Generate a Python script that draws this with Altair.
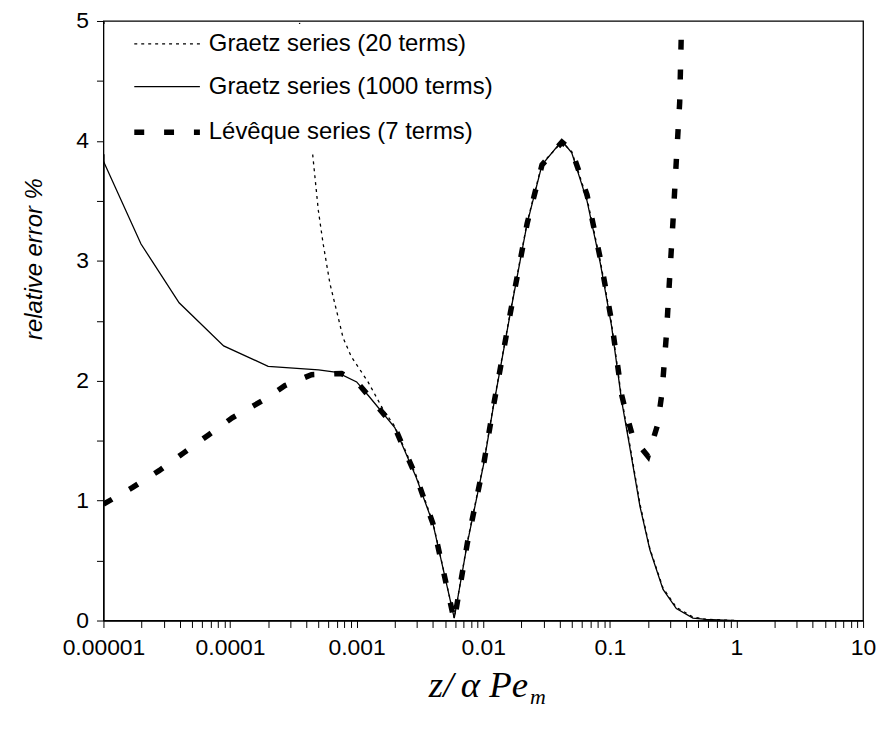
import altair as alt
import pandas as pd

# ---- data (x = z/(alpha Pe_m), y = relative error %) ----
# Graetz series, 1000 terms (solid)
g1000_x = [1e-5, 1.98e-5, 3.96e-5, 8.9e-5, 2.0e-4, 5.0e-4, 7.0e-4, 1.0e-3, 1.25e-3, 2.0e-3,
           2.95e-3, 4.0e-3, 5.9e-3, 7.5e-3, 1.01e-2, 1.2e-2, 1.64e-2, 2.22e-2, 2.91e-2,
           4.18e-2, 5.0e-2, 6.6e-2, 8.4e-2, 0.103, 0.124, 0.144, 0.173, 0.207, 0.263,
           0.335, 0.453, 0.575, 1.0, 1.81]
g1000_y = [3.83, 3.14, 2.65, 2.29, 2.12, 2.09, 2.07, 1.99, 1.87, 1.61,
           1.195, 0.81, 0.02, 0.65, 1.31, 1.78, 2.57, 3.31, 3.80,
           4.0, 3.90, 3.50, 2.98, 2.46, 1.83, 1.44, 0.95, 0.59, 0.26,
           0.10, 0.02, 0.01, 0.0, 0.0]

# Graetz series, 20 terms (dotted)
g20_x = [3.45e-4, 4.54e-4, 4.98e-4, 5.44e-4, 6.15e-4, 7.1e-4, 7.8e-4, 9.08e-4, 1.23e-3,
         1.47e-3, 1.66e-3, 2.0e-3, 2.95e-3, 4.0e-3, 5.9e-3, 7.5e-3, 1.01e-2, 1.2e-2,
         1.64e-2, 2.22e-2, 2.91e-2, 4.18e-2, 5.0e-2, 6.6e-2, 8.4e-2, 0.103, 0.124,
         0.144, 0.173, 0.207, 0.263, 0.335, 0.453, 0.575, 1.0, 1.9]
g20_y = [5.1, 3.84, 3.42, 3.14, 2.81, 2.54, 2.36, 2.20, 1.99,
         1.84, 1.74, 1.62, 1.21, 0.82, 0.02, 0.66, 1.32, 1.79,
         2.58, 3.32, 3.81, 3.99, 3.91, 3.52, 3.0, 2.48, 1.85,
         1.46, 0.97, 0.60, 0.27, 0.11, 0.03, 0.01, 0.0, 0.0]

# Leveque series, 7 terms (thick dashed)
lev_x = [1e-5, 1.7e-5, 2.75e-5, 4.33e-5, 6.8e-5, 1.04e-4, 1.78e-4, 2.72e-4, 4.4e-4,
         7.6e-4, 1.0e-3, 1.23e-3, 2.0e-3, 2.95e-3, 4.0e-3, 5.9e-3, 7.5e-3, 1.01e-2,
         1.2e-2, 1.64e-2, 2.22e-2, 2.91e-2, 4.18e-2, 5.0e-2, 6.6e-2, 8.4e-2, 0.103,
         0.124, 0.135, 0.153, 0.2, 0.238, 0.258, 0.279, 0.297, 0.316, 0.335, 0.356, 0.366]
lev_y = [0.97, 1.11, 1.25, 1.40, 1.55, 1.69, 1.83, 1.96, 2.05,
         2.06, 1.99, 1.88, 1.61, 1.20, 0.81, 0.0, 0.65, 1.31,
         1.78, 2.57, 3.31, 3.80, 3.99, 3.92, 3.55, 3.02, 2.50,
         1.88, 1.72, 1.52, 1.37, 1.63, 1.90, 2.37, 2.87, 3.35, 3.84, 4.32, 4.86]

legend_labels = ["Graetz series (20 terms)", "Graetz series (1000 terms)", "Lévêque series (7 terms)"]

x_decades = [1e-5, 1e-4, 1e-3, 1e-2, 1e-1, 1.0]
x_tick_values = [m * d for d in x_decades for m in range(1, 10)] + [10.0]
y_tick_values = [i * 0.5 for i in range(11)]

FONT = "Liberation Sans"
TOP = 11
W, H = 764, 622 - 8 - TOP

xscale = alt.Scale(type="log", domain=[1e-5, 10], nice=False)
yscale = alt.Scale(domain=[0, 5], nice=False, zero=True)

xaxis = alt.Axis(
    values=x_tick_values, title=None, grid=False, tickSize=7, tickColor="black",
    domainColor="black", domainWidth=1.3, tickWidth=1,
    labelExpr="abs(log(datum.value)/LN10 - round(log(datum.value)/LN10)) < 1e-6 ? format(datum.value, '~f') : ''",
    labelOverlap=False, labelFlush=False, labelPadding=9, labelFontSize=23,
)
yaxis = alt.Axis(
    values=y_tick_values, title="relative error %", grid=False, tickSize=7,
    tickColor="black", domainColor="black", domainWidth=1.3, tickWidth=1,
    labelExpr="datum.value % 1 == 0 ? format(datum.value, 'd') : ''",
    labelOverlap=False, labelFlush=False, labelPadding=8, labelFontSize=23,
    titleX=-69, titleY=258 - 8 - TOP, titleAngle=270, titleAlign="center", titleBaseline="middle",
    titleFontStyle="italic", titleFontWeight="normal", titleFontSize=24, titleFont=FONT,
)

def series(xs, ys):
    return pd.DataFrame({"x": xs, "y": ys})

enc = dict(
    x=alt.X("x:Q", scale=xscale, axis=xaxis),
    y=alt.Y("y:Q", scale=yscale, axis=yaxis),
)

solid = alt.Chart(series(g1000_x, g1000_y)).mark_line(
    color="black", strokeWidth=1.3, clip=True).encode(**enc)
dotted = alt.Chart(series(g20_x, g20_y)).mark_line(
    color="black", strokeWidth=1.3, strokeDash=[3, 4], clip=True).encode(**enc)
lev = alt.Chart(series(lev_x, lev_y)).mark_line(
    color="black", strokeWidth=5.5, strokeDash=[10, 20], strokeCap="butt", clip=True).encode(**enc)

one = pd.DataFrame({"k": [0]})

def ry(abs_y):
    # convert a page y (from the top of the window) to plot-area y
    return abs_y - 8 - TOP

legend_bg = alt.Chart(one).mark_rect(fill="white", stroke=None).encode(
    x=alt.value(1), x2=alt.value(400), y=alt.value(ry(22)), y2=alt.value(ry(153)))

row_y = [ry(42), ry(85), ry(131)]
sym_styles = [dict(strokeWidth=1.3, strokeDash=[3, 4]),
              dict(strokeWidth=1.3),
              dict(strokeWidth=5.5, strokeDash=[10, 20], strokeCap="butt")]
legend_layers = []
for lab, yy, st in zip(legend_labels, row_y, sym_styles):
    legend_layers.append(
        alt.Chart(one).mark_rule(color="black", **st).encode(
            x=alt.value(31), x2=alt.value(97), y=alt.value(yy)))
    legend_layers.append(
        alt.Chart(one).mark_text(text=lab, align="left", baseline="middle",
                                 font=FONT, fontSize=24, color="black").encode(
            x=alt.value(106), y=alt.value(yy)))

xtitle_main = alt.Chart(one).mark_text(
    text="z/\u2009α Pe", align="right", baseline="alphabetic", font="Liberation Serif",
    fontStyle="italic", fontSize=37, color="black").encode(
    x=alt.value(427), y=alt.value(ry(699)))
xtitle_sub = alt.Chart(one).mark_text(
    text="m", align="left", baseline="alphabetic", font="Liberation Serif",
    fontStyle="italic", fontSize=22, color="black").encode(
    x=alt.value(429), y=alt.value(ry(706)))

chart = alt.layer(
    dotted, solid, lev, legend_bg, *legend_layers, xtitle_main, xtitle_sub
).properties(
    width=W, height=H,
    autosize=alt.AutoSizeParams(type="none"),
    padding={"left": 96, "top": TOP, "right": 14, "bottom": 736 - 16 - TOP - H - 8},
    background="white",
).configure_view(
    stroke="black", strokeWidth=1.3
).configure_axis(
    labelFont=FONT, labelColor="black", titleColor="black"
)

chart.save("out.html", embed_options={"renderer": "svg", "actions": False})
